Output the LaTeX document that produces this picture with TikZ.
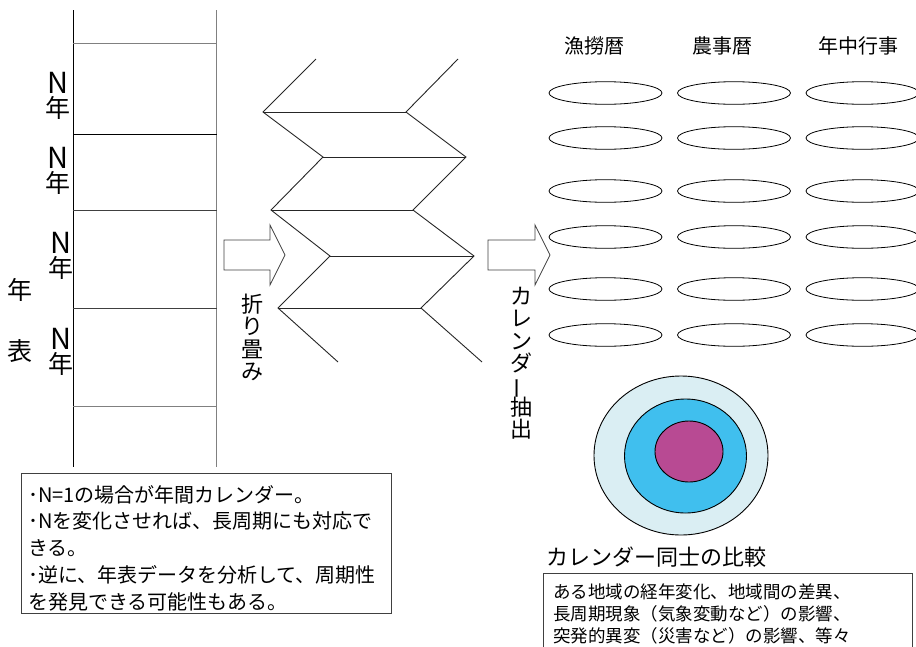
\documentclass[tikz,border=0pt]{standalone}
\usepackage{graphicx}
\usepackage{fontspec}
\setmainfont{Noto Sans CJK JP}
\usetikzlibrary{shapes.geometric}
\definecolor{outerc}{HTML}{DAEEF3}
\definecolor{midc}{HTML}{40BFEE}
\definecolor{innerc}{HTML}{B84A93}
\definecolor{lgray}{HTML}{808080}
\definecolor{dgray}{HTML}{404040}
\newcommand\myvfont{\fontsize{22}{22.2}\selectfont\lineskiplimit=-40pt\relax}
\newcommand\mybar{\rotatebox[origin=c]{90}{ー}}
\begin{document}
\begin{tikzpicture}[x=1pt,y=-1pt,
  tline/.style={line width=1pt},
  foldline/.style={line width=0.9pt, black!85},
  barrow/.style={line width=0.8pt, draw=dgray, fill=white},
  calell/.style={ellipse, draw, line width=0.8pt, minimum width=113pt, minimum height=22.6pt, inner sep=0pt},
  nlabel/.style={align=center, inner sep=0pt, font=\fontsize{25}{24}\selectfont},
  biglabel/.style={inner sep=0pt, font=\fontsize{25}{25}\selectfont},
  vtext/.style={align=center, inner sep=0pt, font=\myvfont},
  header/.style={inner sep=0pt, font=\fontsize{20}{20}\selectfont},
  notebox/.style={draw=dgray, line width=0.9pt, anchor=north west, inner sep=0pt},
  notetext/.style={anchor=north west, inner sep=0pt, align=left},
  ring/.style={ellipse, draw, line width=0.9pt, inner sep=0pt}
]
\useasboundingbox (0,0) rectangle (916,646);
\clip (0,0) rectangle (916,646);

% chronological table
\draw[tline, black] (73,10) -- (73,467);
\draw[tline, lgray] (216.7,10) -- (216.7,467);
\foreach \yy/\cc in {43.3/lgray,134.3/black,210/dgray,308.3/dgray,406.7/lgray}
  \draw[tline,\cc] (73,\yy) -- (216.7,\yy);

\node[nlabel] (n1) at (58,96) {{\fontsize{29}{24}\selectfont N}\\年};
\node[nlabel] (n2) at (58,171) {{\fontsize{29}{24}\selectfont N}\\年};
\node[nlabel] (n3) at (61,255.5) {{\fontsize{29}{24}\selectfont N}\\年};
\node[nlabel] (n4) at (61,352) {{\fontsize{29}{24}\selectfont N}\\年};
\node[biglabel] (nen) at (20,290) {年};
\node[biglabel] (hyo) at (20,351) {表};

% block arrows
\draw[barrow] (224,240) -- (270,240) -- (270,225) -- (285,255) -- (270,285) -- (270,270) -- (224,270) -- cycle;
\draw[barrow] (488,240) -- (535,240) -- (535,225) -- (550,255) -- (535,285) -- (535,270) -- (488,270) -- cycle;

\node[vtext] (fold) at (252,337.5) {折\\り\\畳\\み};
\node[vtext] (extract) at (521,363.5) {カ\\レ\\ン\\ダ\\\mybar\\抽\\出};

% folded screen
\coordinate (a0) at (316,59);  \coordinate (b0) at (458,59);
\coordinate (a1) at (263,112); \coordinate (b1) at (406,112);
\coordinate (a2) at (323,157); \coordinate (b2) at (466,157);
\coordinate (a3) at (271,210); \coordinate (b3) at (413,210);
\coordinate (a4) at (330,256); \coordinate (b4) at (474,256);
\coordinate (a5) at (278,308); \coordinate (b5) at (421,308);
\coordinate (a6) at (338,362); \coordinate (b6) at (482,362);
\draw[foldline] (a0) -- (a1) -- (a2) -- (a3) -- (a4) -- (a5) -- (a6);
\draw[foldline] (b0) -- (b1) -- (b2) -- (b3) -- (b4) -- (b5) -- (b6);
\foreach \k in {1,...,5} \draw[foldline] (a\k) -- (b\k);

% calendars
\node[header] (h1) at (594,46) {漁撈暦};
\node[header] (h2) at (722,46) {農事暦};
\node[header] (h3) at (858,46) {年中行事};
\foreach \cx [count=\i] in {605.5,734,862.5}
  \foreach \cy [count=\j] in {93,138,191,237,289,335}
    \node[calell] (e\i\j) at (\cx,\cy) {};

% comparison rings
\node[ring, fill=outerc, minimum width=174pt, minimum height=159pt] (outer) at (681,455.5) {};
\node[ring, fill=midc, minimum width=122pt, minimum height=114pt] (middle) at (685.5,456) {};
\node[ring, fill=innerc, minimum width=68pt, minimum height=61pt] (inner) at (689,451.5) {};
\node[inner sep=0pt, font=\fontsize{22}{22}\selectfont] (cmp) at (656.5,557.5) {カレンダー同士の比較};

% note boxes
\node[notebox, minimum width=370pt, minimum height=139.5pt] (box1) at (20.7,473) {};
\node[notetext, font=\fontsize{20}{26.8}\selectfont] (t1) at (28,485)
  {･N=1の場合が年間カレンダー。\\･Nを変化させれば、長周期にも対応で\\きる。\\･逆に、年表データを分析して、周期性\\を発見できる可能性もある。};
\node[notebox, minimum width=369pt, minimum height=100pt] (box2) at (543,573) {};
\node[notetext, font=\fontsize{17.5}{22}\selectfont] (t2) at (553,584)
  {ある地域の経年変化、地域間の差異、\\長周期現象（気象変動など）の影響、\\突発的異変（災害など）の影響、等々};
\end{tikzpicture}
\end{document}
